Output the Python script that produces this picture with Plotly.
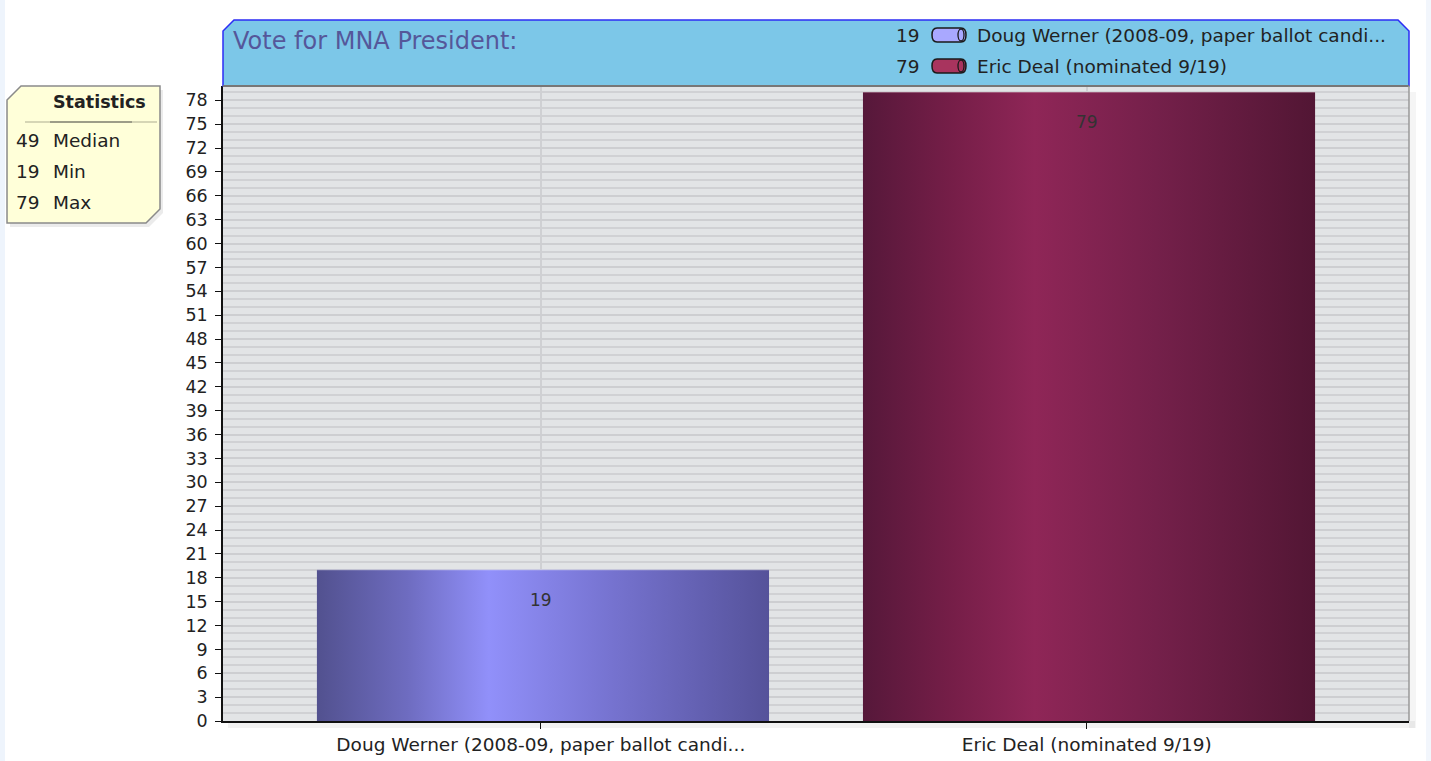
import numpy as np
import plotly.graph_objects as go

# ---------------- data ----------------
categories = ["Doug Werner (2008-09, paper ballot candi...", "Eric Deal (nominated 9/19)"]
legend_names = ["Doug Werner (2008-09, paper ballot candi...", "Eric Deal (nominated 9/19)"]
votes = [19, 79]
title_text = "Vote for MNA President:"
y_ticks = list(range(0, 79, 3))

# ---------------- styles ----------------
W, H = 1431, 761
ML, MR, MT, MB = 223, 22, 86, 40
PW, PH = W - ML - MR, H - MT - MB
FONT = "DejaVu Sans, Verdana, sans-serif"
TXT = 18.5
bar_scales = [
    [[0, "#52518f"], [0.2, "#6e6cc0"], [0.38, "#9190fa"], [0.65, "#7673d0"], [1, "#55529a"]],
    [[0, "#56183a"], [0.2, "#761e48"], [0.38, "#8f2657"], [0.65, "#74204a"], [1, "#521634"]],
]
bar_mid = ["#7a78d4", "#7a2149"]
icon_fill = ["#a9a8ff", "#a8345e"]
BAR_W = 0.828


def px(x):
    return (x - ML) / PW


def py(y):
    return (MT + PH - y) / PH


fig = go.Figure()
annotations = []
shapes = []

x_idx = list(range(len(categories)))
fig.add_trace(go.Bar(x=[i + 0.004 for i in x_idx], y=votes, width=BAR_W,
                     marker=dict(color=bar_mid, line=dict(width=0)),
                     hoverinfo="skip", showlegend=False))

# gradient overlay built from the same values
for i, v in enumerate(votes):
    c = i + 0.004
    l, r = c - BAR_W / 2, c + BAR_W / 2
    fig.add_trace(go.Scatter(
        x=[l, r, r, l, l], y=[0, 0, v, v, 0], mode="lines", fill="toself",
        line=dict(width=0, color=bar_mid[i]),
        fillgradient=dict(type="horizontal", colorscale=bar_scales[i]),
        hoverinfo="skip", showlegend=False))
    fig.add_trace(go.Scatter(x=[l, r], y=[v, v], mode="lines",
                             line=dict(width=1.2, color="rgba(255,255,255,0.25)"),
                             hoverinfo="skip", showlegend=False))
    annotations.append(dict(x=i, y=v, xref="x", yref="y", text=str(v), showarrow=False, yshift=-30,
                            font=dict(family=FONT, size=17, color="#333333")))

# page edge strips
shapes.append(dict(type="rect", xref="paper", yref="paper", x0=px(0), x1=px(5), y0=py(H), y1=py(0),
                   fillcolor="#eef4fc", line=dict(width=0), layer="below"))
shapes.append(dict(type="rect", xref="paper", yref="paper", x0=px(1426), x1=px(W), y0=py(H), y1=py(0),
                   fillcolor="#f2f6fc", line=dict(width=0), layer="below"))
# plot shadow
shapes.append(dict(type="rect", xref="paper", yref="paper", x0=px(228), x1=px(1415), y0=py(728), y1=py(721),
                   fillcolor="rgba(0,0,0,0.05)", line=dict(width=0), layer="below"))
shapes.append(dict(type="rect", xref="paper", yref="paper", x0=px(1409), x1=px(1416), y0=py(728), y1=py(92),
                   fillcolor="rgba(0,0,0,0.04)", line=dict(width=0), layer="below"))
# title band
band = [(223, 86), (223, 31), (234, 20), (1398, 20), (1409, 31), (1409, 86)]
path = "M " + " L ".join(f"{px(a):.5f},{py(b):.5f}" for a, b in band) + " Z"
shapes.append(dict(type="path", xref="paper", yref="paper", path=path, fillcolor="#7cc7e8",
                   line=dict(color="#2c2cf5", width=1.5)))
# plot top/right border
shapes.append(dict(type="line", xref="paper", yref="paper", x0=px(223), x1=px(1409), y0=py(86), y1=py(86),
                   line=dict(color="#777777", width=2)))
shapes.append(dict(type="line", xref="paper", yref="paper", x0=px(1409), x1=px(1409), y0=py(86), y1=py(721),
                   line=dict(color="#999999", width=1.5)))

# statistics box
sb = [(7, 100), (21, 86), (160, 86), (160, 209), (146, 223), (7, 223)]
sb_sh = [(a + 3, b + 4) for a, b in sb]
shapes.append(dict(type="path", xref="paper", yref="paper",
                   path="M " + " L ".join(f"{px(a):.5f},{py(b):.5f}" for a, b in sb_sh) + " Z",
                   fillcolor="rgba(0,0,0,0.08)", line=dict(width=0)))
shapes.append(dict(type="path", xref="paper", yref="paper",
                   path="M " + " L ".join(f"{px(a):.5f},{py(b):.5f}" for a, b in sb) + " Z",
                   fillcolor="#ffffd9", line=dict(color="#8a8a8a", width=1.5)))
shapes.append(dict(type="line", xref="paper", yref="paper", x0=px(25), x1=px(157), y0=py(122), y1=py(122),
                   line=dict(color="#c8c8a8", width=1.5)))
shapes.append(dict(type="line", xref="paper", yref="paper", x0=px(50), x1=px(132), y0=py(122), y1=py(122),
                   line=dict(color="#8a8a7a", width=1.5)))

annotations.append(dict(xref="paper", yref="paper", x=px(231), y=py(41), text=title_text, showarrow=False,
                        xanchor="left", yanchor="middle", font=dict(family=FONT, size=24, color="#55579a")))

# legend entries inside the band
leg_y = [35, 66]
for i, (name, v) in enumerate(zip(legend_names, votes)):
    yy = leg_y[i]
    annotations.append(dict(xref="paper", yref="paper", x=px(922), y=py(yy), text=str(v), showarrow=False,
                            xanchor="right", yanchor="middle", font=dict(family=FONT, size=TXT, color="#222222")))
    annotations.append(dict(xref="paper", yref="paper", x=px(975), y=py(yy), text=name, showarrow=False,
                            xanchor="left", yanchor="middle", font=dict(family=FONT, size=TXT, color="#222222")))
    x0, x1, y0, y1 = 932, 966, yy - 7, yy + 7
    rr = 5
    cap = (f"M {px(x0+rr):.5f},{py(y0):.5f} L {px(x1-rr):.5f},{py(y0):.5f} "
           f"Q {px(x1):.5f},{py(y0):.5f} {px(x1):.5f},{py(yy):.5f} "
           f"Q {px(x1):.5f},{py(y1):.5f} {px(x1-rr):.5f},{py(y1):.5f} "
           f"L {px(x0+rr):.5f},{py(y1):.5f} "
           f"Q {px(x0):.5f},{py(y1):.5f} {px(x0):.5f},{py(yy):.5f} "
           f"Q {px(x0):.5f},{py(y0):.5f} {px(x0+rr):.5f},{py(y0):.5f} Z")
    shapes.append(dict(type="path", xref="paper", yref="paper", path=cap, fillcolor=icon_fill[i],
                       line=dict(color="#1a1a1a", width=1.5)))
    shapes.append(dict(type="circle", xref="paper", yref="paper", x0=px(x1 - 8), x1=px(x1 - 2),
                       y0=py(y1 - 1), y1=py(y0 + 1), line=dict(color="#1a1a1a", width=1.3)))

# statistics text
stats = [(int(np.median(votes)), "Median"), (int(min(votes)), "Min"), (int(max(votes)), "Max")]
annotations.append(dict(xref="paper", yref="paper", x=px(99), y=py(102), text="<b>Statistics</b>",
                        showarrow=False, xanchor="center", yanchor="middle",
                        font=dict(family=FONT, size=17.5, color="#222222")))
for k, (val, lab) in enumerate(stats):
    yy = [141, 171, 202][k]
    annotations.append(dict(xref="paper", yref="paper", x=px(14), y=py(yy), text=str(val), showarrow=False,
                            xanchor="left", yanchor="middle", font=dict(family=FONT, size=TXT, color="#222222")))
    annotations.append(dict(xref="paper", yref="paper", x=px(51), y=py(yy), text=lab, showarrow=False,
                            xanchor="left", yanchor="middle", font=dict(family=FONT, size=TXT, color="#222222")))

fig.update_layout(
    width=W, height=H,
    margin=dict(l=ML, r=MR, t=MT, b=MB, pad=0, autoexpand=False),
    paper_bgcolor="white", plot_bgcolor="#e2e4e6",
    showlegend=False, bargap=0,
    shapes=shapes, annotations=annotations,
    font=dict(family=FONT, size=16, color="#222222"),
    xaxis=dict(range=[-0.582, 1.590], tickvals=x_idx, ticktext=categories, showgrid=True, automargin=False,
               gridcolor="#cfd0d3", gridwidth=2, zeroline=False, showline=True, linecolor="#111111",
               linewidth=1.5, ticks="outside", ticklen=6, tickcolor="#111111",
               tickfont=dict(family=FONT, size=TXT, color="#222222"), fixedrange=True),
    yaxis=dict(range=[0, 79.8], tickvals=y_ticks, showgrid=True, gridcolor="#cdced1", gridwidth=2,
               automargin=False, ticklabelstandoff=4,
               minor=dict(dtick=1, tick0=0, showgrid=True, gridcolor="#d0d1d4", gridwidth=2),
               zeroline=False, showline=True, linecolor="#111111", linewidth=1.5,
               ticks="outside", ticklen=6, tickcolor="#111111",
               tickfont=dict(family=FONT, size=17.5, color="#222222"), fixedrange=True),
)

fig.write_html("out.html", config={"displayModeBar": False},
               post_script="document.body.style.margin='0';document.body.style.overflow='hidden';")
